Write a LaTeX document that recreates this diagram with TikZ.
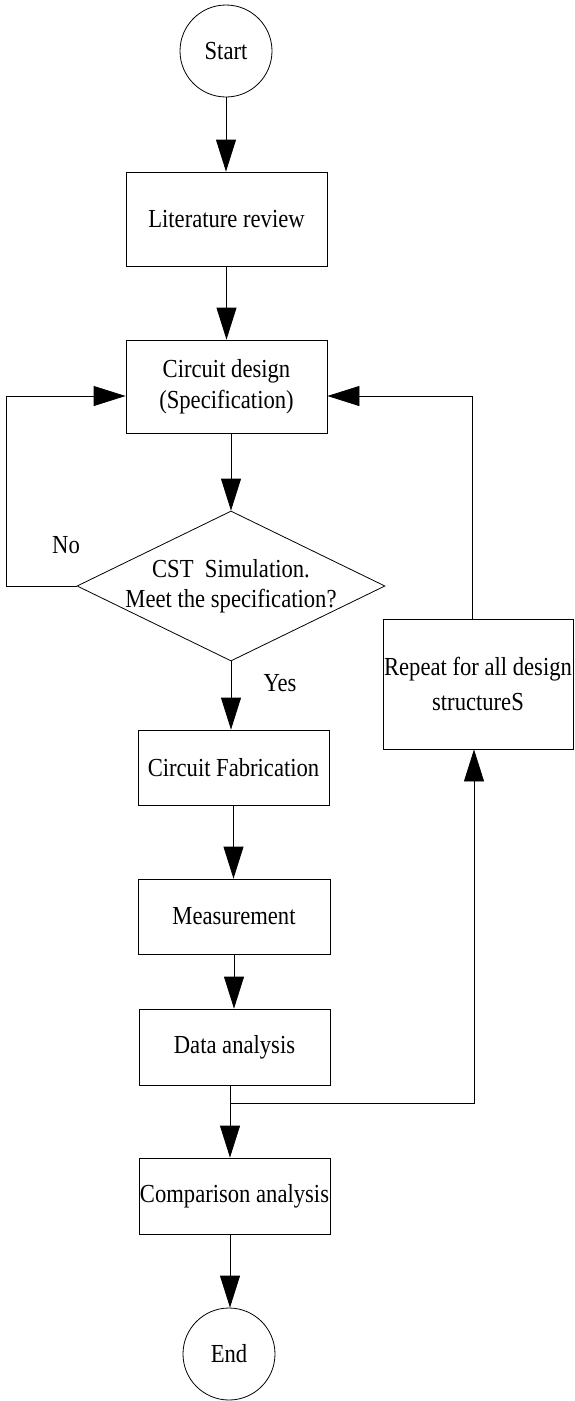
\documentclass[tikz,border=0pt]{standalone}
\usepackage{fontspec}
\setmainfont[FakeStretch=0.87]{Liberation Serif}
\usetikzlibrary{arrows.meta,shapes.geometric}
\begin{document}
\begin{tikzpicture}[x=1pt,y=-1pt,
  every node/.style={font=\fontsize{26}{31}\selectfont},
  box/.style={draw, line width=0.8pt, inner sep=0pt, align=center},
  term/.style={draw, circle, line width=0.8pt, minimum size=92pt, inner sep=0pt},
  dec/.style={draw, diamond, line width=0.8pt, minimum width=308pt, minimum height=150pt, inner sep=0pt},
  arr/.style={draw, line width=0.8pt, -{Triangle[length=32pt,width=20pt]}},
  ln/.style={draw, line width=0.8pt},
  lbl/.style={inner sep=0pt}]
\useasboundingbox (0,0) rectangle (574,1401);
\node[term] (start) at (226,51) {Start};
\node[box, minimum width=201pt, minimum height=94pt] (lit) at (226.5,219) {Literature review};
\node[box, minimum width=201pt, minimum height=93pt] (design) at (226.5,386.5) {Circuit design\\(Specification)};
\node[dec] (dia) at (231,586) {};
\node[lbl, align=center, font=\fontsize{26}{30}\selectfont] (diatext) at (231,586) {CST~ Simulation.\\Meet the specification?};
\node[box, minimum width=191pt, minimum height=75pt] (fab) at (233.5,767.5) {Circuit Fabrication};
\node[box, minimum width=192pt, minimum height=75pt] (meas) at (234,916.5) {Measurement};
\node[box, minimum width=191pt, minimum height=76pt] (data) at (234.5,1047) {Data analysis};
\node[box, minimum width=191pt, minimum height=76pt] (comp) at (234.5,1196) {Comparison analysis};
\node[term] (end) at (229,1354) {End};
\node[box, minimum width=190pt, minimum height=130pt, font=\fontsize{26}{35}\selectfont] (rep) at (478,684) {Repeat for all design\\structureS};
\node[lbl] (no) at (66,545) {No};
\node[lbl] (yes) at (280,683) {Yes};
\coordinate (nl) at (6,586);
\coordinate (j) at (230,1103);
\draw[arr] (start.south) -- (start.south |- lit.north);
\draw[arr] (lit.south) -- (lit.south |- design.north);
\draw[arr] (dia.north |- design.south) -- (dia.north);
\draw[arr] (dia.south) -- (dia.south |- fab.north);
\draw[arr] (fab.south) -- (fab.south |- meas.north);
\draw[arr] (meas.south) -- (meas.south |- data.north);
\draw[ln] (j |- data.south) -- (j);
\draw[arr] (j) -- (j |- comp.north);
\draw[arr] (j |- comp.south) -- (j |- end.north);
\draw[arr] (j) -| ([xshift=-4pt]rep.south);
\draw[arr] ([xshift=-6pt]rep.north) |- ([yshift=-9.5pt]design.east);
\draw[arr] (dia.west) -- (nl) |- ([yshift=-9.5pt]design.west);
\end{tikzpicture}
\end{document}
